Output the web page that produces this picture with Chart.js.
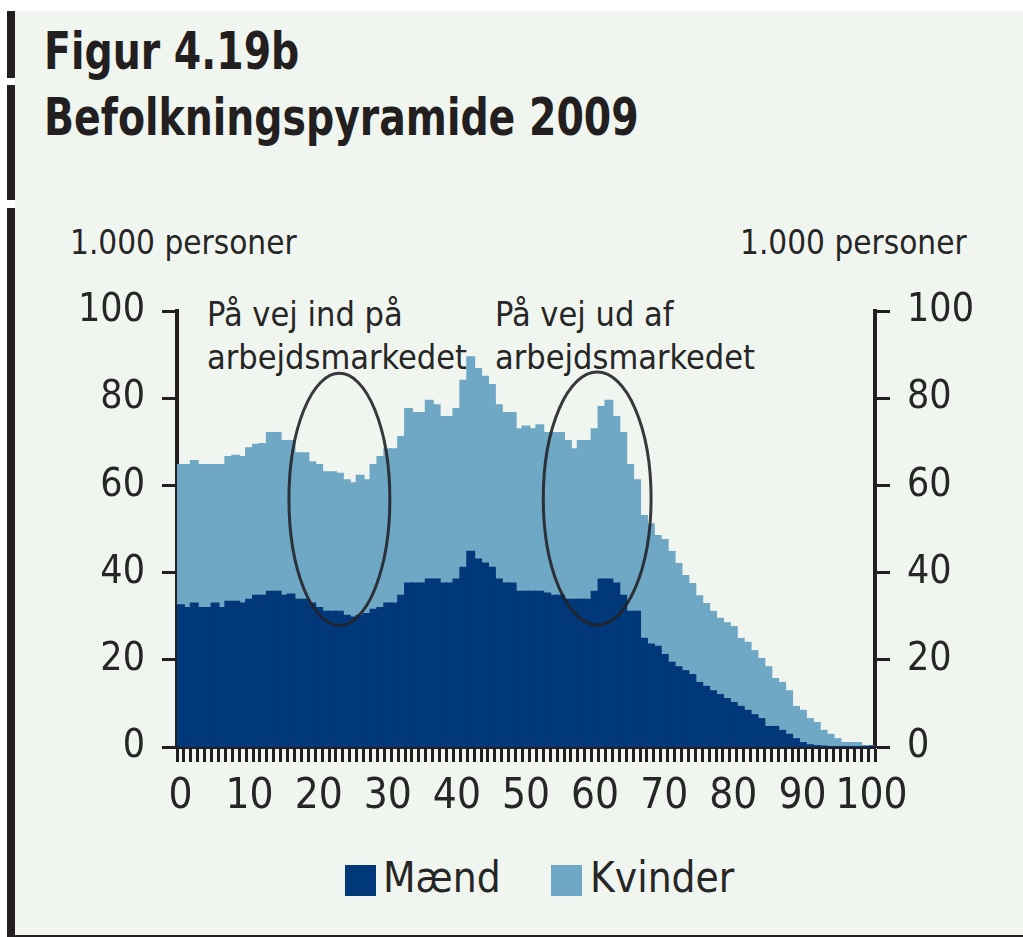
<!DOCTYPE html>
<html lang="da">
<head>
<meta charset="UTF-8">
<title>Befolkningspyramide 2009</title>
<script src="https://cdn.jsdelivr.net/npm/chart.js"></script>
<style>
    body {
        margin: 0;
        width: 1023px;
        height: 937px;
        overflow: hidden;
        position: relative;
        background: #fff;
        font-family: 'DejaVu Sans Condensed', 'DejaVu Sans', sans-serif;
        color: #262626;
    }
    .panel {
        position: absolute;
        left: 15px; top: 11px;
        width: 1008px; height: 924px;
        background: #f0f6ef;
        border-bottom: 2px solid #231f20;
    }
    .rule { position: absolute; left: 7px; width: 8px; background: #231f20; }
    .title {
        position: absolute; left: 44px;
        font-size: 43.8px; line-height: 1; font-weight: bold;
        color: #231f20; white-space: nowrap;
        transform: scaleY(1.18); transform-origin: 0 0;
    }
    .unit { position: absolute; top: 226px; font-size: 33px; line-height: 1; white-space: nowrap; }
    .note { position: absolute; top: 293px; font-size: 34px; line-height: 43px; white-space: nowrap; }
    .legend { position: absolute; top: 857px; font-size: 42px; line-height: 1; white-space: nowrap; }
    .swatch { position: absolute; top: 865px; width: 31px; height: 31px; }
    #wrap { position: absolute; left: 0; top: 0; width: 1023px; height: 937px; }
</style>
</head>
<body>
    <div class="panel"></div>
    <div class="rule" style="top:11px;height:67px"></div>
    <div class="rule" style="top:85px;height:115px"></div>
    <div class="rule" style="top:208px;height:729px"></div>

    <!-- Titles -->
    <div class="title" style="top:25px">Figur 4.19b</div>
    <div class="title" style="top:91px">Befolkningspyramide 2009</div>

    <div class="unit" style="left:70px">1.000 personer</div>
    <div class="unit" style="left:740px">1.000 personer</div>

    <div class="note" style="left:207px">På vej ind på<br>arbejdsmarkedet</div>
    <div class="note" style="left:495px">På vej ud af<br>arbejdsmarkedet</div>

    <!-- Legend -->
    <div class="swatch" style="left:345px;background:#00387a"></div>
    <div class="legend" style="left:383px">Mænd</div>
    <div class="swatch" style="left:551px;background:#6fa8c5"></div>
    <div class="legend" style="left:590px">Kvinder</div>

    <div id="wrap"><canvas id="pyramid"></canvas></div>

    <script>
        // Data: population per age, in 1.000 persons
        const ages = Array.from({ length: 101 }, (_, i) => i);
        const xTickLabels = [0, 10, 20, 30, 40, 50, 60, 70, 80, 90, 100];
        const yTicks = [0, 20, 40, 60, 80, 100];

        const maend = [
            32.5, 31.9, 32.9, 31.9, 31.9, 32.9, 31.9, 33.3, 33.3, 32.9,
            33.8, 34.7, 34.7, 35.6, 35.6, 34.7, 35.0, 33.8, 33.8, 32.9,
            31.9, 31.0, 31.0, 31.0, 30.1, 29.7, 30.1, 30.5, 31.5, 31.9,
            32.9, 32.9, 34.7, 37.5, 37.5, 37.5, 38.4, 38.4, 37.5, 37.5,
            38.4, 41.1, 44.8, 43.0, 42.1, 41.1, 38.4, 37.5, 37.5, 35.6,
            35.6, 35.6, 35.6, 35.2, 34.7, 34.7, 33.8, 33.8, 33.8, 33.8,
            35.6, 38.4, 38.4, 37.5, 34.7, 31.0, 31.0, 24.8, 23.5, 23.0,
            21.1, 19.3, 18.3, 17.4, 16.5, 14.7, 13.8, 12.8, 11.9, 11.0,
            10.1, 9.2, 8.3, 7.3, 6.4, 4.6, 4.6, 3.7, 2.8, 1.8,
            0.9, 0.4, 0.2, 0.1, 0, 0, 0, 0, 0, 0, 0
        ];

        const kvinder = [
            32.2, 32.8, 32.7, 32.8, 32.8, 31.8, 32.8, 33.2, 33.5, 33.6,
            34.7, 34.6, 34.8, 36.4, 36.4, 35.5, 35.2, 33.6, 33.6, 32.4,
            32.8, 32.0, 32.0, 31.7, 31.1, 30.8, 32.1, 30.7, 33.2, 34.6,
            35.4, 35.4, 36.4, 40.0, 39.1, 39.1, 41.0, 40.0, 38.2, 38.2,
            39.1, 42.9, 44.6, 43.7, 42.8, 41.9, 40.0, 39.1, 39.1, 37.3,
            37.9, 37.3, 38.2, 36.8, 37.3, 37.3, 36.4, 34.5, 36.4, 36.4,
            37.3, 39.6, 41.0, 38.2, 37.3, 33.7, 30.2, 28.2, 27.6, 25.4,
            26.4, 25.4, 23.7, 21.8, 20.9, 19.9, 19.0, 18.2, 17.5, 17.4,
            17.4, 15.6, 15.6, 14.7, 13.8, 13.7, 11.0, 11.0, 10.0, 7.4,
            7.4, 6.0, 5.3, 3.6, 2.8, 1.8, 0.9, 0.9, 0.9, 0.2, 0.1
        ];

        // Circled regions (age, value, radius in years / in 1.000 persons)
        const ellipses = [
            { age: 23.0, value: 56.8, rx: 7.3, ry: 28.9 },
            { age: 60.3, value: 57.0, rx: 7.8, ry: 29.0 }
        ];

        const FONT = "'DejaVu Sans Condensed', 'DejaVu Sans', sans-serif";
        const INK = '#231f20';
        const TEXT = '#262626';

        const ellipsePlugin = {
            id: 'ellipses',
            afterDatasetsDraw(chart) {
                const { ctx, scales: { x, y } } = chart;
                ctx.save();
                ctx.strokeStyle = 'rgba(35,35,40,0.9)';
                ctx.lineWidth = 3;
                ellipses.forEach(e => {
                    const cx = x.getPixelForValue(e.age);
                    const cy = y.getPixelForValue(e.value);
                    const rx = x.getPixelForValue(e.age + e.rx) - cx;
                    const ry = cy - y.getPixelForValue(e.value + e.ry);
                    ctx.beginPath();
                    ctx.ellipse(cx, cy, rx, ry, 0, 0, Math.PI * 2);
                    ctx.stroke();
                });
                ctx.restore();
            }
        };

        const yAxis = (position, width) => ({
            position: position,
            stacked: true,
            min: 0,
            max: 100,
            afterFit: s => { s.width = width; },
            afterBuildTicks: s => { s.ticks = yTicks.map(v => ({ value: v })); },
            grid: { drawOnChartArea: false, tickLength: 15, tickWidth: 3, tickColor: INK },
            border: { display: true, color: INK, width: 4 },
            ticks: { padding: 17, color: TEXT, font: { family: FONT, size: 39 } }
        });

        new Chart(document.getElementById('pyramid'), {
            type: 'bar',
            data: {
                labels: ages,
                datasets: [
                    { label: 'Mænd', data: maend, backgroundColor: '#00387a', borderWidth: 0, inflateAmount: 1, barPercentage: 1, categoryPercentage: 1 },
                    { label: 'Kvinder', data: kvinder, backgroundColor: '#6fa8c5', borderWidth: 0, inflateAmount: 1, barPercentage: 1, categoryPercentage: 1 }
                ]
            },
            options: {
                responsive: true,
                maintainAspectRatio: false,
                animation: false,
                layout: { padding: { top: 311, left: 0, right: 0, bottom: 0 } },
                plugins: { legend: { display: false }, tooltip: { enabled: false } },
                scales: {
                    x: {
                        stacked: true,
                        offset: true,
                        afterFit: s => { s.height = 190; },
                        grid: { drawOnChartArea: false, offset: true, tickLength: 15, tickWidth: 3, tickColor: INK },
                        border: { display: true, color: INK, width: 4 },
                        ticks: {
                            autoSkip: false,
                            maxRotation: 0,
                            minRotation: 0,
                            padding: 10,
                            color: TEXT,
                            font: { family: FONT, size: 42 },
                            callback: (v, i) => xTickLabels.includes(ages[i]) ? String(ages[i]) : ''
                        }
                    },
                    y: yAxis('left', 177),
                    y2: yAxis('right', 148)
                }
            },
            plugins: [ellipsePlugin]
        });
    </script>
</body>
</html>
